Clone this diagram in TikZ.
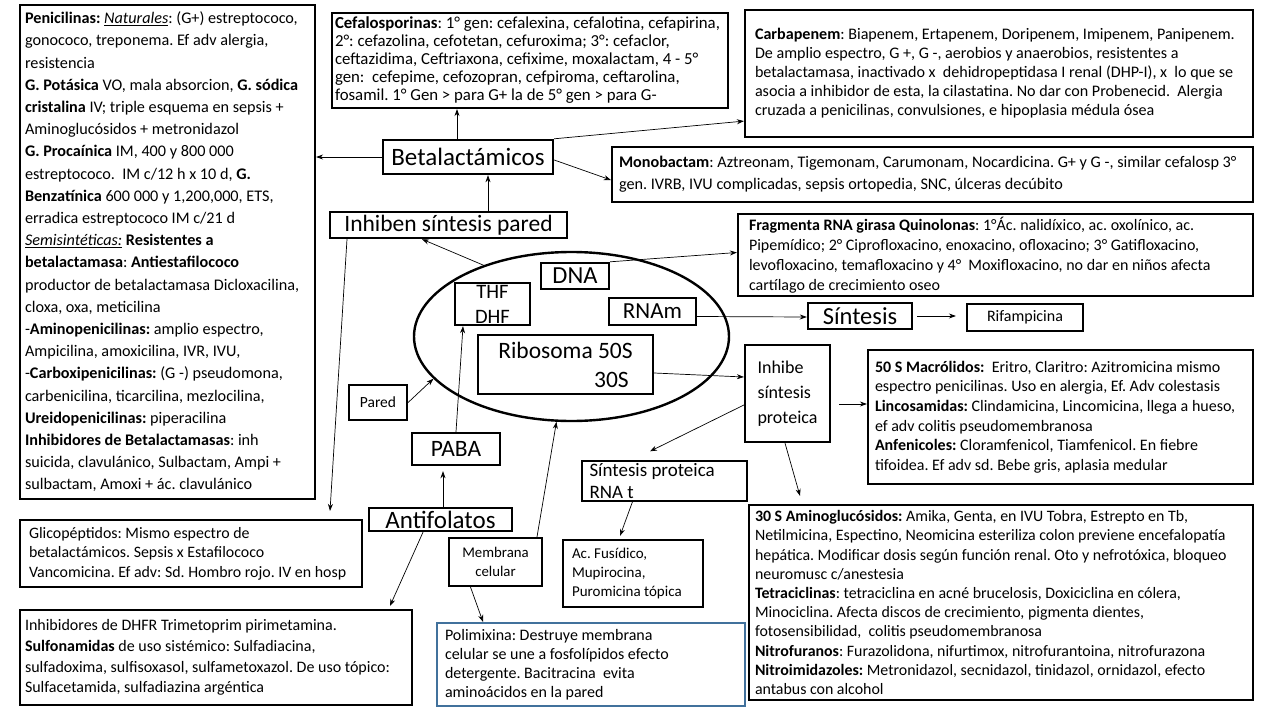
\documentclass[tikz,border=0pt]{standalone}
\usepackage{fontspec}
\setmainfont{Carlito}
\usetikzlibrary{shapes.geometric, arrows.meta}
\frenchspacing
\hyphenpenalty=10000
\exhyphenpenalty=10000
\newcommand{\txtsize}[2]{\fontsize{#1}{#2}\selectfont}
\tikzstyle{txtbox} = [rectangle, draw=black, line width=2.2pt, align=flush left, inner sep=3pt]
\tikzstyle{keybox} = [rectangle, draw=black, line width=2.4pt, align=center, inner sep=0pt, font=\txtsize{24}{26}]
\tikzstyle{smallbox} = [rectangle, draw=black, line width=2.2pt, align=center, inner sep=2pt, font=\txtsize{14.8}{19}]
\tikzstyle{arrow} = [->, >={Stealth[length=7pt,width=5pt]}, line width=0.7pt]

\begin{document}
\begin{tikzpicture}[x=1pt, y=-1pt]

    % Page
    \fill[white] (0,0) rectangle (1280,720);

    % Left column
    \node (penic) [txtbox, minimum width=295, minimum height=494, text width=285, font=\txtsize{16.2}{22.2}] at (167.5,252) {\textbf{Penicilinas:} \underline{\textit{Naturales}}: (G+) estreptococo,\\
gonococo, treponema. Ef adv alergia,\\
resistencia\\
\textbf{G. Potásica} VO, mala absorcion, \textbf{G. sódica}\\
\textbf{cristalina} IV; triple esquema en sepsis +\\
Aminoglucósidos + metronidazol\\
\textbf{G. Procaínica} IM, 400 y 800 000\\
estreptococo.\ \ IM c/12 h x 10 d, \textbf{G.}\\
\textbf{Benzatínica} 600 000 y 1,200,000,\ ETS,\\
erradica estreptococo IM c/21 d\\
\underline{\textit{Semisintéticas:}} \textbf{Resistentes a}\\
\textbf{betalactamasa}: \textbf{Antiestafilococo}\\
productor de betalactamasa Dicloxacilina,\\
cloxa, oxa, meticilina\\
-\textbf{Aminopenicilinas:} amplio espectro,\\
Ampicilina, amoxicilina, IVR, IVU,\\
-\textbf{Carboxipenicilinas:} (G -) pseudomona,\\
carbenicilina, ticarcilina, mezlocilina,\\
\textbf{Ureidopenicilinas:} piperacilina\\
\textbf{Inhibidores de Betalactamasas}: inh\\
suicida, clavulánico, Sulbactam, Ampi +\\
sulbactam, Amoxi + ác. clavulánico};
    \node (glico) [txtbox, minimum width=342, minimum height=67, text width=324, font=\txtsize{15.9}{19.5}] at (191,553.5) {Glicopéptidos: Mismo espectro de\\
betalactámicos. Sepsis x Estafilococo\\
Vancomicina. Ef adv: Sd. Hombro rojo. IV en hosp};
    \node (dhfr) [txtbox, minimum width=392, minimum height=95, text width=382, font=\txtsize{16}{20.7}] at (216,657.5) {Inhibidores de DHFR Trimetoprim pirimetamina.\\
\textbf{Sulfonamidas} de uso sistémico: Sulfadiacina,\\
sulfadoxima, sulfisoxasol, sulfametoxazol. De uso tópico:\\
Sulfacetamida, sulfadiazina argéntica};

    % Top row
    \node (cefalo) [txtbox, minimum width=394, minimum height=95, text width=390, font=\txtsize{16.8}{18}] at (530,60.5) {\textbf{Cefalosporinas}: 1° gen: cefalexina, cefalotina, cefapirina,\\
2°: cefazolina, cefotetan, cefuroxima; 3°: cefaclor,\\
ceftazidima, Ceftriaxona, cefixime, moxalactam, 4 - 5°\\
gen:\ \ cefepime, cefozopran, cefpiroma, ceftarolina,\\
fosamil. 1° Gen > para G+ la de 5° gen > para G-};
    \node (carba) [txtbox, minimum width=508, minimum height=127, text width=488, font=\txtsize{16.1}{19}] at (999,73.5) {\textbf{Carbapenem}: Biapenem, Ertapenem, Doripenem, Imipenem, Panipenem.\\
De amplio espectro, G +, G -, aerobios y anaerobios, resistentes a\\
betalactamasa, inactivado x\ \ dehidropeptidasa I renal (DHP-I), x\ \ lo que se\\
asocia a inhibidor de esta, la cilastatina. No dar con Probenecid.\ \ Alergia\\
cruzada a penicilinas, convulsiones, e hipoplasia médula ósea};
    \node (betal) [keybox, minimum width=170, minimum height=34, font=\txtsize{25}{27}] at (468,157) {Betalactámicos};
    \node (mono) [txtbox, minimum width=641, minimum height=55, text width=627, font=\txtsize{16.2}{22}] at (932.5,174.5) {\textbf{Monobactam}: Aztreonam, Tigemonam, Carumonam, Nocardicina. G+ y G -, similar cefalosp 3°\\
gen. IVRB, IVU complicadas, sepsis ortopedia, SNC, úlceras decúbito};
    \node (inhiben) [keybox, minimum width=237, minimum height=26, font=\txtsize{23.5}{25}] at (448.5,225) {Inhiben síntesis pared};
    \node (frag) [txtbox, minimum width=515, minimum height=82, text width=493, font=\txtsize{16}{20}] at (995.5,255) {\textbf{Fragmenta RNA girasa Quinolonas}: 1°Ác. nalidíxico, ac. oxolínico, ac.\\
Pipemídico; 2° Ciprofloxacino, enoxacino, ofloxacino; 3° Gatifloxacino,\\
levofloxacino, temafloxacino y 4°\ \ Moxifloxacino, no dar en niños afecta\\
cartílago de crecimiento oseo};

    % Cell
    \node (cell) [ellipse, draw=black, line width=2.4pt, minimum width=315, minimum height=169] at (571.5,336.5) {};
    \node (dna) [keybox, minimum width=68, minimum height=26, font=\txtsize{24.5}{26}] at (575,276) {DNA};
    \node (thf) [keybox, minimum width=75, minimum height=42, font=\txtsize{20.5}{25}] at (492.5,304) {THF\\DHF};
    \node (rnam) [keybox, minimum width=87, minimum height=27, font=\txtsize{23}{25}] at (652.5,311.5) {RNAm};
    \node (ribo) [keybox, minimum width=175, minimum height=59, align=right, font=\txtsize{23.5}{29}] at (565.5,364.5) {Ribosoma 50S\\30S\hspace*{4pt}};

    % Around the cell
    \node (pared) [smallbox, minimum width=58, minimum height=35, font=\txtsize{15.5}{17}] at (378,402.5) {Pared};
    \node (paba) [keybox, minimum width=88, minimum height=32, font=\txtsize{23.5}{25}] at (456,449) {PABA};
    \node (antif) [keybox, minimum width=143, minimum height=23, font=\txtsize{25}{26}] at (440.5,519.5) {Antifolatos};
    \node (membr) [smallbox, minimum width=93, minimum height=48] at (495.5,562) {Membrana\\celular};
    \node (polim) [txtbox, draw={rgb,255:red,65;green,113;blue,156}, minimum width=308, minimum height=83, text width=292, font=\txtsize{16}{19}] at (591,664.5) {Polimixina: Destruye membrana\\
celular se une a fosfolípidos efecto\\
detergente. Bacitracina\ \ evita\\
aminoácidos en la pared};
    \node (sintesis) [keybox, minimum width=104, minimum height=26, font=\txtsize{24.5}{26}] at (860,316) {Síntesis};
    \node (rifam) [smallbox, minimum width=116, minimum height=27, font=\txtsize{16}{18}] at (1025,317.5) {Rifampicina};
    \node (inhibe) [smallbox, minimum width=85, minimum height=97, align=left, font=\txtsize{18}{25}] at (787.5,393.5) {Inhibe\\síntesis\\proteica};
    \node (sprot) [smallbox, minimum width=165, minimum height=38, align=flush left, text width=150, font=\txtsize{19}{22}] at (664.5,481) {Síntesis proteica\\RNA t};
    \node (fusid) [smallbox, minimum width=140, minimum height=67, align=flush left, text width=122, font=\txtsize{15}{19}] at (633,573.5) {Ac. Fusídico,\\Mupirocina,\\Puromicina tópica};
    \node (macro) [txtbox, minimum width=385, minimum height=134, text width=371, font=\txtsize{16}{19.6}] at (1060.5,417) {\textbf{50 S Macrólidos:}\ \ Eritro, Claritro: Azitromicina mismo\\
espectro penicilinas. Uso en alergia, Ef. Adv colestasis\\
\textbf{Lincosamidas:} Clindamicina, Lincomicina, llega a hueso,\\
ef adv colitis pseudomembranosa\\
\textbf{Anfenicoles:} Cloramfenicol, Tiamfenicol. En fiebre\\
tifoidea. Ef adv sd. Bebe gris, aplasia medular};
    \node (amino) [txtbox, minimum width=504, minimum height=195, text width=492, font=\txtsize{15.9}{19.2}] at (1001,602.5) {\textbf{30 S Aminoglucósidos:} Amika, Genta, en IVU Tobra, Estrepto en Tb,\\
Netilmicina, Espectino, Neomicina esteriliza colon previene encefalopatía\\
hepática. Modificar dosis según función renal. Oto y nefrotóxica, bloqueo\\
neuromusc c/anestesia\\
\textbf{Tetraciclinas}: tetraciclina en acné brucelosis, Doxiciclina en cólera,\\
Minociclina. Afecta discos de crecimiento, pigmenta dientes,\\
fotosensibilidad,\ \ colitis pseudomembranosa\\
\textbf{Nitrofuranos}: Furazolidona, nifurtimox, nitrofurantoina, nitrofurazona\\
\textbf{Nitroimidazoles:} Metronidazol, secnidazol, tinidazol, ornidazol, efecto\\
antabus con alcohol};

    % Arrows from Betalactamicos
    \draw [arrow] (betal.west) -- (betal.west -| penic.east);
    \draw [arrow] ([xshift=-11pt]betal.north) -- ([xshift=-11pt]betal.north |- cefalo.south);
    \draw [arrow] (betal.north east) -- ([yshift=17pt]carba.south west);
    \draw [arrow] ([yshift=-3pt]betal.east) -- ([yshift=-5.5pt]mono.west);

    % Arrows of the wall
    \draw [arrow] ([xshift=39.5pt]inhiben.north) -- ([xshift=39.5pt]inhiben.north |- betal.south);
    \draw [arrow] ([xshift=-101.5pt]inhiben.south) -- ([xshift=139pt,yshift=8pt]glico.north);
    \draw [arrow] (cell.141) -- ([xshift=-26.5pt]inhiben.south);
    \draw [arrow] (pared.east) -- (cell.197);

    % Folates
    \draw [arrow] (paba.north) -- ([xshift=-29.5pt]thf.south);
    \draw [arrow] ([xshift=2.5pt]antif.north) -- ([xshift=2.5pt,yshift=-5pt]antif.north |- paba.south);
    \draw [arrow] ([xshift=-17.5pt]antif.south) -- ([xshift=174pt,yshift=3pt]dhfr.north);

    % Membrane
    \draw [arrow] ([xshift=41.5pt]membr.north) -- (cell.260);
    \draw [arrow] ([xshift=-25pt]membr.south) -- ([xshift=-108pt]polim.north);

    % DNA and RNA
    \draw [arrow] (dna.north east) -- ([yshift=2.5pt]frag.west);
    \draw [arrow] ([yshift=-5pt]rnam.east) -- ([yshift=-1pt]sintesis.west);
    \draw [arrow] ([xshift=4pt]sintesis.east) -- ([xshift=-10pt]sintesis.east -| rifam.west);

    % Protein synthesis
    \draw [arrow] ([yshift=-8.5pt]ribo.east) -- ([yshift=16.5pt]inhibe.west);
    \draw [arrow] ([xshift=8pt,yshift=-10.5pt]inhibe.east) -- ([yshift=-10.5pt]inhibe.east -| macro.west);
    \draw [arrow] ([xshift=-2.5pt]inhibe.south) -- ([xshift=-201pt,yshift=8pt]amino.north);
    \draw [arrow] ([yshift=-11.5pt]inhibe.west) -- ([xshift=-14.5pt,yshift=9pt]sprot.north);
    \draw [arrow] ([xshift=-32pt]sprot.south) -- ([xshift=-13pt,yshift=3pt]fusid.north);

\end{tikzpicture}
\end{document}
